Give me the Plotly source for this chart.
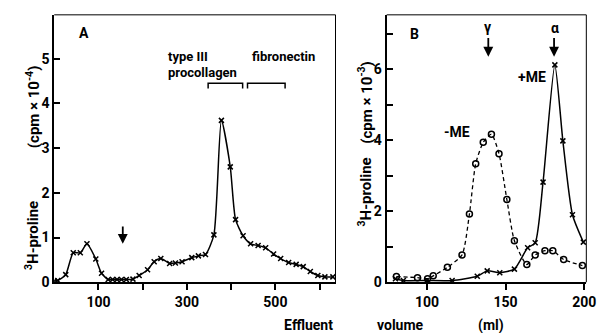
import plotly.graph_objects as go

# Panel A: 3H-proline (cpm x 10^-4) vs effluent volume (ml)
a_x = [0, 8, 26, 43, 59, 74, 94, 107, 122, 132, 142, 152, 163, 178, 192, 211, 226, 241, 261,
       274, 289, 311, 326, 342, 361, 378, 398, 410, 427, 444, 461, 478, 496, 512, 530, 547,
       563, 579, 596, 612, 630]
a_y = [0.03, 0.04, 0.17, 0.66, 0.66, 0.86, 0.52, 0.2, 0.06, 0.06, 0.06, 0.06, 0.06, 0.07, 0.15,
       0.28, 0.46, 0.53, 0.42, 0.43, 0.46, 0.55, 0.59, 0.62, 1.06, 3.62, 2.58, 1.4, 1.04, 0.86,
       0.82, 0.77, 0.63, 0.53, 0.44, 0.40, 0.35, 0.24, 0.15, 0.12, 0.12]

# Panel B: 3H-proline (cpm x 10^-3)
b_minus_x = [80.6, 94, 100.4, 104, 113, 122.3, 127, 131, 135.8, 141, 145.8, 150.8, 155.6,
             163.5, 168.8, 175, 180, 186.9, 198.8]
b_minus_y = [0.16, 0.13, 0.1, 0.18, 0.42, 0.77, 1.92, 3.34, 3.94, 4.17, 3.62, 2.33, 1.17,
             0.5, 0.77, 0.89, 0.89, 0.64, 0.47]
b_plus_x = [80, 85, 100, 116, 132, 138.3, 146.3, 155.6, 164, 168.8, 173.8, 181.3, 186.4, 192.5, 199.4]
b_plus_y = [0.1, 0.05, 0.05, 0.05, 0.17, 0.32, 0.27, 0.37, 0.97, 1.11, 2.82, 6.12, 3.98, 1.9, 1.13]

a_xticks = [100, 200, 300, 400, 500, 600]
a_xlabels = ["100", "", "300", "", "500", ""]
a_yticks = [0, 1, 2, 3, 4, 5]
b_xticks = [100, 150, 200]
b_yticks = [0, 1, 2, 3, 4, 5, 6, 7]
b_ylabels = ["0", "", "2", "", "4", "", "6", ""]

W, H = 607, 333
FONT = "Roboto, DejaVu Sans"

def dx(p):
    return p / W

def dy(p):
    return 1 - p / H

fig = go.Figure()
fig.add_trace(go.Scatter(x=a_x, y=a_y, mode="lines+markers", xaxis="x", yaxis="y",
                         line=dict(color="black", width=1.5, shape="spline", smoothing=0.6),
                         marker=dict(symbol="x-thin", size=5, color="black",
                                     line=dict(width=1.5, color="black")),
                         showlegend=False))
fig.add_trace(go.Scatter(x=b_minus_x, y=b_minus_y, mode="lines+markers", xaxis="x2", yaxis="y2",
                         line=dict(color="black", width=1.3, dash="4px,3px", shape="spline", smoothing=0.6),
                         marker=dict(symbol="circle-open", size=6, color="black",
                                     line=dict(width=1.5, color="black")),
                         showlegend=False))
fig.add_trace(go.Scatter(x=b_plus_x, y=b_plus_y, mode="lines+markers", xaxis="x2", yaxis="y2",
                         line=dict(color="black", width=1.5, shape="spline", smoothing=0.6),
                         marker=dict(symbol="x-thin", size=5, color="black",
                                     line=dict(width=1.5, color="black")),
                         showlegend=False))

axfont = dict(family=FONT, size=14, color="black", weight="bold")
common = dict(showgrid=False, zeroline=False, showline=True, linecolor="black", linewidth=2,
              tickfont=axfont, tickcolor="black", ticklen=6, tickwidth=1.5)

fig.update_layout(
    width=W, height=H, margin=dict(l=0, r=0, t=0, b=0),
    paper_bgcolor="white", plot_bgcolor="white",
    xaxis=dict(domain=[dx(47), dx(333)], range=[0, 636], tickvals=a_xticks, ticktext=a_xlabels,
               ticks="outside", anchor="y", **common),
    yaxis=dict(domain=[dy(281), dy(7)], range=[0, 5.98], tickvals=a_yticks, ticks="inside",
               anchor="x", **common),
    xaxis2=dict(domain=[dx(385), dx(588)], range=[74.4, 201.3], tickvals=b_xticks,
                ticks="outside", anchor="y2", **common),
    yaxis2=dict(domain=[dy(281), dy(7)], range=[0, 7.53], tickvals=b_yticks, ticktext=b_ylabels,
                ticks="inside", anchor="x2", **common),
)

# thin top/right frame lines
for xr, yr in (("x", "y"), ("x2", "y2")):
    fig.add_shape(type="line", xref=xr + " domain", yref=yr + " domain", x0=0, x1=1, y0=1, y1=1,
                  line=dict(color="black", width=1))
    fig.add_shape(type="line", xref=xr + " domain", yref=yr + " domain", x0=1, x1=1, y0=0, y1=1,
                  line=dict(color="black", width=1))

# brackets in panel A
for x0, x1 in ((348, 426), (437, 522)):
    fig.add_shape(type="path", xref="x", yref="y",
                  path=f"M {x0},4.33 L {x0},4.45 L {x1},4.45 L {x1},4.33",
                  line=dict(color="black", width=1.5))

# arrows
def down_arrow(xref, yref, x, ytop, ybot):
    fig.add_annotation(x=x, y=ybot, ax=x, ay=ytop, xref=xref, yref=yref, axref=xref, ayref=yref,
                       showarrow=True, arrowhead=2, arrowsize=1.1, arrowwidth=1.8,
                       arrowcolor="black", text="")

down_arrow("x", "y", 155, 1.28, 0.86)
down_arrow("x2", "y2", 139, 6.92, 6.35)
down_arrow("x2", "y2", 180.8, 6.92, 6.35)

def label(text, px, py, size=14, xanchor="center", **kw):
    fig.add_annotation(text=text, xref="paper", yref="paper", x=dx(px), y=dy(py), showarrow=False,
                       xanchor=xanchor, yanchor="middle", borderpad=0,
                       font=dict(family=FONT, size=size, color="black", weight="bold"), **kw)

label("A", 77, 26)
label("type III", 162, 50, size=13, xanchor="left")
label("procollagen", 162, 66, size=13, xanchor="left")
label("fibronectin", 247, 50, size=13, xanchor="left")
label("B", 413, 27)
label("γ", 488, 19)
label("α", 556, 20)
label("-ME", 457, 127)
label("+ME", 533, 71)

# axis titles
label("<sup>3</sup>H-proline", 25, 233, size=15, textangle=-90)
label("(cpm × 10<sup>-4</sup>)", 25, 101, size=15, textangle=-90)
label("<sup>3</sup>H-proline", 363, 189, size=15, textangle=-90)
label("(cpm × 10<sup>-3</sup>)", 363, 97, size=15, textangle=-90)
label("Effluent", 306, 325)
label("volume", 399, 325)
label("(ml)", 491, 325)

fig.write_html("out.html")
